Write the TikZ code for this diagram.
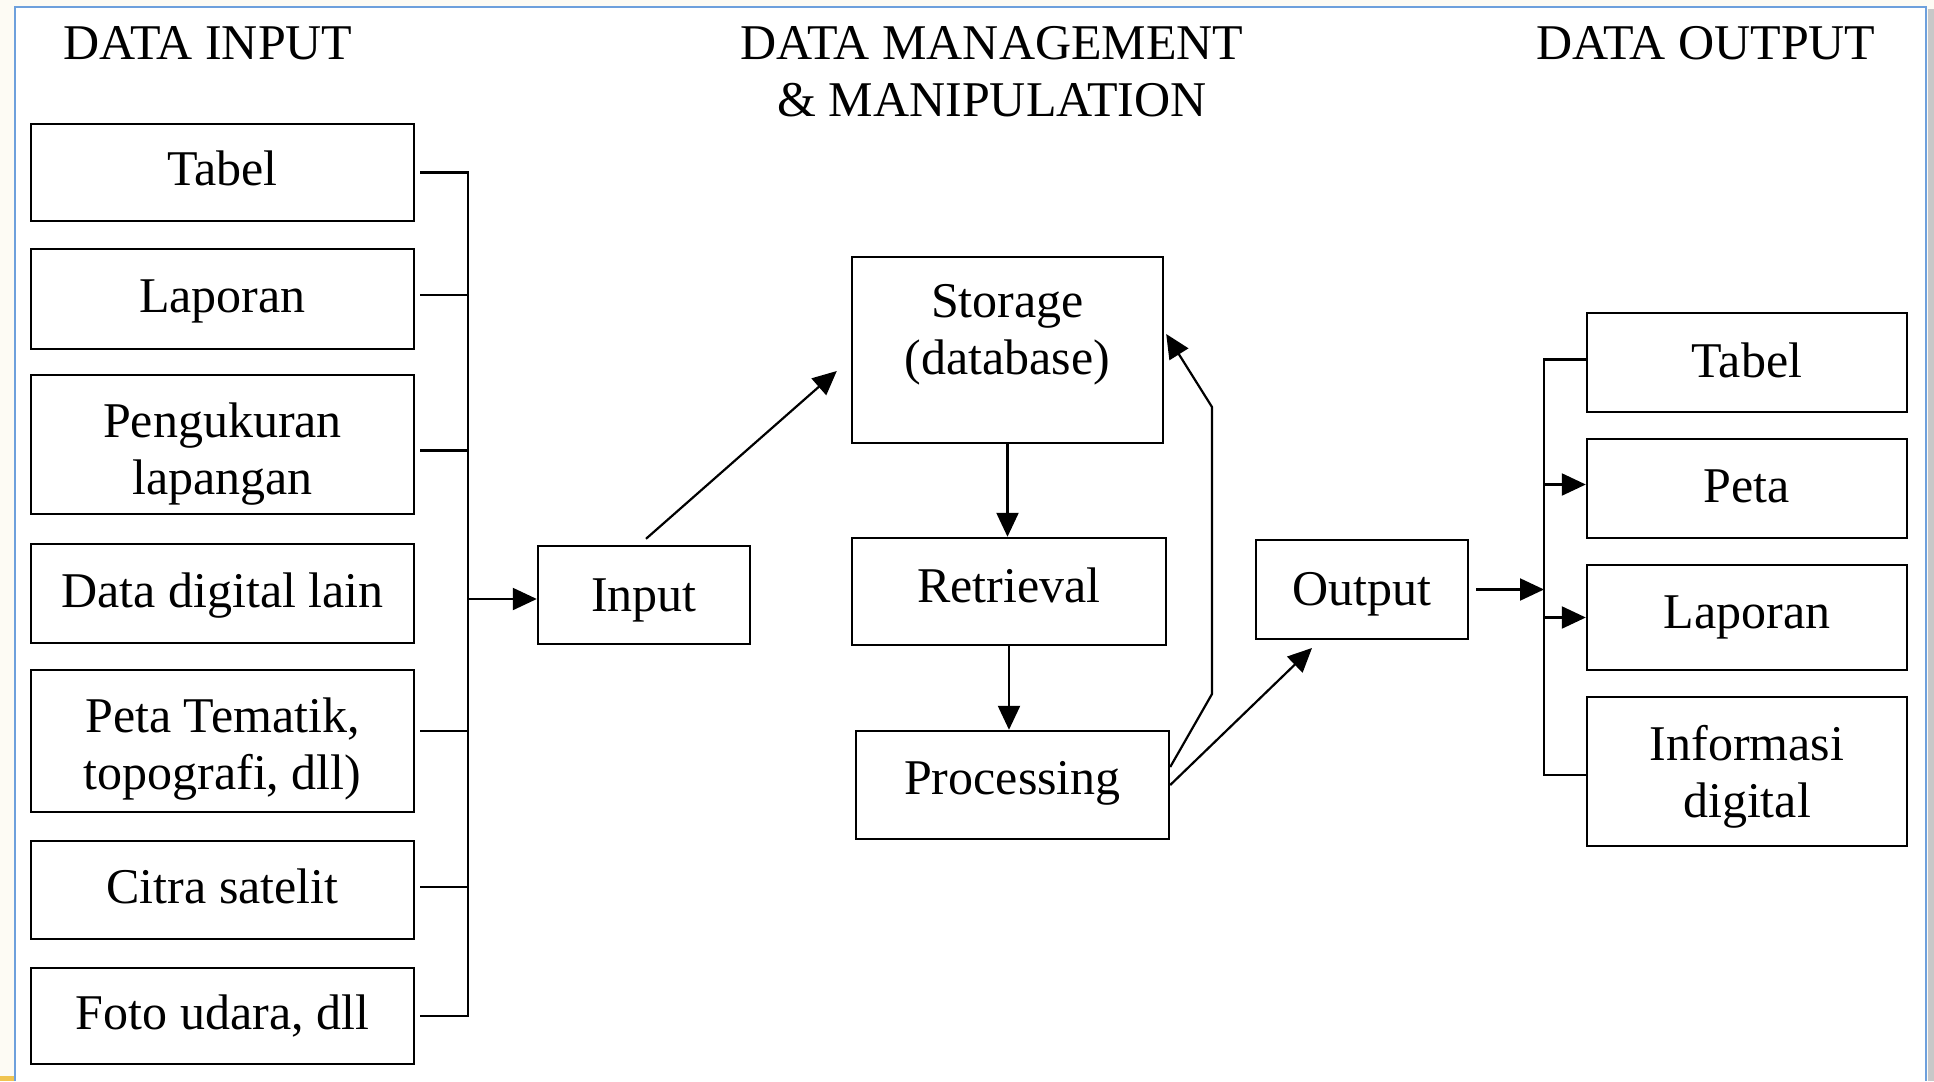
\documentclass[tikz,border=0pt]{standalone}
\usepackage{fontspec}
\setmainfont{Liberation Serif}
\usetikzlibrary{arrows.meta}
\definecolor{bgcream}{RGB}{253,251,244}
\definecolor{shadowgray}{RGB}{200,200,200}
\definecolor{cornyellow}{RGB}{240,196,80}
\definecolor{framblue}{RGB}{110,160,220}
\newcommand{\myrb}[2]{\raisebox{#1}[\height][\depth]{#2}}
\begin{document}
\begin{tikzpicture}[x=0.5pt,y=-0.5pt,
  box/.style={draw=black,line width=1.2pt,inner sep=0pt,align=center,
    font=\fontsize{25}{28.5}\selectfont,fill=white},
  txt/.style={inner sep=0pt,align=center,font=\fontsize{25}{28.5}\selectfont},
  conn/.style={draw=black,line width=1.1pt},
  arr/.style={conn,-{Triangle[length=12pt,width=11pt]}}]
% background and frame
\fill[bgcream] (0,0) rectangle (1934,1081);
\fill[white] (15,7) rectangle (1926,1081);
\fill[shadowgray] (1928,9) rectangle (1934,1081);
\fill[cornyellow] (0,1076) rectangle (14,1081);
\draw[framblue,line width=1pt] (15,1081) -- (15,7) -- (1926,7) -- (1926,1081);
\useasboundingbox (0,0) rectangle (1934,1081);

% titles
\node[txt,anchor=base] (t1) at (208,59) {DATA INPUT};
\node[txt,anchor=base] (t2a) at (992,59) {DATA MANAGEMENT};
\node[txt,anchor=base] (t2b) at (992,116) {\& MANIPULATION};
\node[txt,anchor=base] (t3) at (1706,59) {DATA OUTPUT};

% left column
\node[box,minimum width=191.5pt,minimum height=48.5pt] (tabelL) at (222.5,172.5) {\myrb{1.9pt}{Tabel}};
\node[box,minimum width=191.5pt,minimum height=50pt] (lapL) at (222.5,299) {\myrb{-1.2pt}{Laporan}};
\node[box,minimum width=191.5pt,minimum height=69.5pt,
  label={[txt,yshift=-5pt]center:Pengukuran\\lapangan}] (ukurL) at (222.5,444.5) {};
\node[box,minimum width=191.5pt,minimum height=49.5pt] (digL) at (222.5,593.5) {\myrb{-1.2pt}{Data digital lain}};
\node[box,minimum width=191.5pt,minimum height=71pt,
  label={[txt,yshift=-4pt]center:Peta Tematik,\\topografi, dll)}] (petaL) at (222.5,741) {};
\node[box,minimum width=191.5pt,minimum height=49pt] (citraL) at (222.5,890) {\myrb{1.9pt}{Citra satelit}};
\node[box,minimum width=191.5pt,minimum height=48pt] (fotoL) at (222.5,1016) {Foto udara, dll};

% middle
\node[box,minimum width=106pt,minimum height=49pt] (input) at (644,595) {\myrb{-2.5pt}{Input}};
\node[box,minimum width=155.5pt,minimum height=93pt,
  label={[txt,yshift=7.5pt]center:Storage\\(database)}] (storage) at (1007.5,350) {};
\node[box,minimum width=157pt,minimum height=53.5pt] (retrieval) at (1009,591.5) {\myrb{3pt}{Retrieval}};
\node[box,minimum width=156.5pt,minimum height=54pt] (processing) at (1012.5,785) {\myrb{0.6pt}{Processing}};
\node[box,minimum width=106pt,minimum height=49.5pt] (output) at (1362,589.5) {\myrb{-2.5pt}{Output}};

% right column
\node[box,minimum width=160pt,minimum height=49.5pt] (tabelR) at (1747,362.5) {\myrb{1.2pt}{Tabel}};
\node[box,minimum width=160pt,minimum height=49.5pt] (petaR) at (1747,488.5) {\myrb{1.2pt}{Peta}};
\node[box,minimum width=160pt,minimum height=52.5pt] (lapR) at (1747,617.5) {Laporan};
\node[box,minimum width=160pt,minimum height=74.5pt,
  label={[txt,yshift=-2.5pt]center:Informasi\\digital}] (infoR) at (1747,771.5) {};

% left bus
\coordinate (busL) at (468,599);
\draw[conn] ([xshift=2.5pt]tabelL.east) -| (busL |- fotoL.east) -- ([xshift=2.5pt]fotoL.east);
\draw[conn] ([xshift=2.5pt,yshift=2pt]lapL.east) -- ([yshift=2pt]lapL.east -| busL);
\draw[conn] ([xshift=2.5pt,yshift=-3pt]ukurL.east) -- ([yshift=-3pt]ukurL.east -| busL);
\draw[conn] ([xshift=2.5pt,yshift=5pt]petaL.east) -- ([yshift=5pt]petaL.east -| busL);
\draw[conn] ([xshift=2.5pt,yshift=1.5pt]citraL.east) -- ([yshift=1.5pt]citraL.east -| busL);
\draw[arr] (busL) -- (busL -| input.west);

% middle connectors
\draw[arr] ([xshift=1pt,yshift=3pt]input.north) -- ([xshift=-7pt,yshift=-10.5pt]storage.west);
\draw[arr] (storage.south) -- (storage.south |- retrieval.north);
\draw[arr] (retrieval.south) -- (retrieval.south |- processing.north);
\coordinate (fb1) at (1212,694);
\coordinate (fb2) at (1212,407);
\draw[arr] ([yshift=9pt]processing.east) -- (fb1) -- (fb2) -- ([xshift=1pt,yshift=8pt]storage.east);
\coordinate (outIn) at (1312,648);
\draw[arr] (processing.east) -- (outIn);

% right bus
\coordinate (busR) at (1544,590);
\coordinate (tabStub) at ([yshift=1.5pt]tabelR.west);
\coordinate (infoStub) at ([yshift=-1.75pt]infoR.west);
\draw[arr] ([xshift=3.5pt]output.east) -- (output.east -| busR);
\draw[conn] (tabStub) -| (busR |- infoStub) -- (infoStub);
\draw[arr] ([yshift=2pt]petaR.west -| busR) -- ([yshift=2pt]petaR.west);
\draw[arr] (lapR.west -| busR) -- (lapR.west);
\end{tikzpicture}
\end{document}
